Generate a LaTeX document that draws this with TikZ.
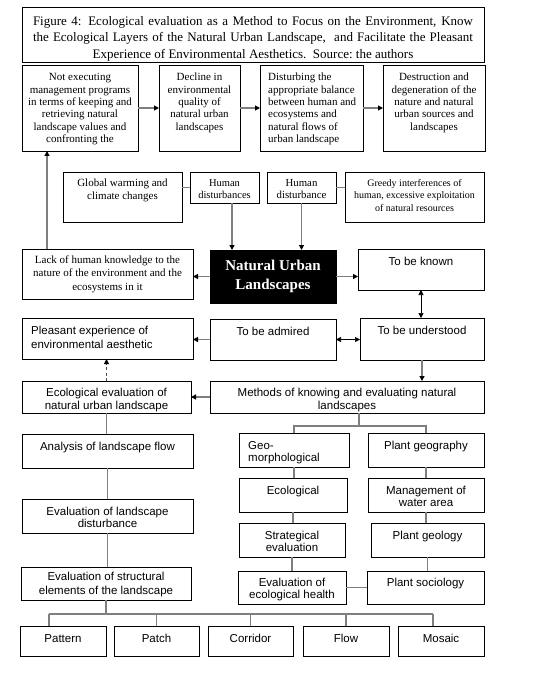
\documentclass[tikz,border=0pt]{standalone}
\usepackage{fontspec}
\setmainfont{Liberation Serif}
\setsansfont{Liberation Sans}
\usetikzlibrary{arrows.meta}
\definecolor{ln}{HTML}{7F7F7F}
\newcommand\bx[5]{\node[box,minimum width={(#4-#2)*1pt},minimum height={(#5-#3)*1pt}] (#1) at ({(#2+#4)/2},{(#3+#5)/2}) {};}
\tikzset{
  box/.style={draw=black,line width=0.75pt,inner sep=0pt,outer sep=0pt,fill=white},
  txt/.style={inner sep=0pt,anchor=north,align=center},
  sr/.style={font=\fontsize{11}{12.3}\selectfont},
  sf/.style={font=\sffamily\fontsize{11.5}{13}\selectfont},
  tip/.tip={Triangle[length=5pt,width=5pt,color=black,fill=black]},
  arr/.style={draw=ln,line width=1.2pt,-tip},
  dbl/.style={draw=black,line width=0.7pt,tip-tip},
  tl/.style={draw=ln,line width=1.2pt},
}
\begin{document}
\begin{tikzpicture}[x=1pt,y=-1pt]
\useasboundingbox[fill=white] (0,0) rectangle (551,679);
% title
\bx{title}{22}{7}{484}{62}
\node[txt,font=\fontsize{13}{16.5}\selectfont] (tt) at (253,13.4) {\strut\makebox[440pt][s]{Figure 4: Ecological evaluation as a Method to Focus on the Environment, Know}\\\makebox[440pt][s]{the Ecological Layers of the Natural Urban Landscape,\ \ and Facilitate the Pleasant}\\Experience of Environmental Aesthetics.\ \ Source:\ the authors};
% row 1
\bx{b1}{22}{65}{138}{151}
\bx{b2}{159}{65}{240}{151}
\bx{b3}{260}{65}{363}{151}
\bx{b4}{383}{65}{485}{151}
\node[txt,sr] (b1t) at (80,72.1) {\strut Not executing\\management programs\\in terms of keeping and\\retrieving natural\\landscape values and\\confronting the};
\node[txt,sr] (b2t) at (199.5,72.1) {\strut Decline in\\environmental\\quality of\\natural urban\\landscapes};
\node[txt,sr,anchor=north west,align=left] (b3t) at (268,72.1) {\strut Disturbing the\\appropriate balance\\between human and\\ecosystems and\\natural flows of\\urban landscape};
\node[txt,sr] (b4t) at (434,72.1) {\strut Destruction and\\degeneration of the\\nature and natural\\urban sources and\\landscapes};
\draw[arr] (b1) -- (b2);
\draw[arr] (b2) -- (b3);
\draw[arr] (b3) -- (b4);
% row 2
\bx{gw}{63}{172}{182}{222}
\bx{hd1}{190}{172}{259}{203}
\bx{hd2}{267}{172}{336}{203}
\bx{gr}{345}{172}{484}{222}
\node[txt,font=\fontsize{11}{13.3}\selectfont] (gwt) at (122.5,176.7) {\strut Global warming and\\climate changes};
\node[txt,font=\fontsize{10.5}{12}\selectfont] (hd1t) at (224.5,177.6) {\strut Human\\disturbances};
\node[txt,font=\fontsize{10.8}{12}\selectfont] (hd2t) at (301.5,177.6) {\strut Human\\disturbance};
\node[txt,font=\fontsize{10}{12.7}\selectfont] (grt) at (414.5,177.1) {\strut Greedy interferences of\\human, excessive exploitation\\of natural resources};
\draw[tl] (hd1.west) -- (hd1.west -| gw.east);
\draw[tl] (hd2.east) -- (hd2.east -| gr.west);
% row 3
\bx{lack}{22}{249}{193}{299}
\node[box,fill=black,minimum width=126pt,minimum height=53pt,text=white,align=center,font=\fontsize{15}{19}\selectfont\bfseries] (nul) at (273,276.5) {Natural Urban\\Landscapes};
\bx{known}{358}{249}{484}{290}
\node[txt,font=\fontsize{11}{13.8}\selectfont] (lackt) at (107.5,253.3) {\strut Lack of human knowledge to the\\nature of the environment and the\\ecosystems in it};
\node[txt,sf] (knownt) at (421,255.9) {\strut To be known};
\coordinate (xa) at (47,0);
\coordinate (xb) at (232,0);
\draw[arr] (lack.north -| xa) -- (b1.south -| xa);
\draw[arr] (hd1.south -| xb) -- (nul.north -| xb);
\draw[arr] (hd2.south) -- (hd2.south |- nul.north);
\draw[arr] (nul.west) -- (nul.west -| lack.east);
\draw[arr] (nul.east) -- (nul.east -| known.west);
% row 4
\bx{ple}{22}{318}{193}{359}
\bx{adm}{210}{319}{336}{360}
\bx{und}{360}{318}{484}{360}
\node[txt,sf,anchor=north west,align=left,font=\sffamily\fontsize{11.5}{14.3}\selectfont] (plet) at (31,324) {\strut Pleasant experience of\\environmental aesthetic};
\node[txt,sf] (admt) at (273,326.6) {\strut To be admired};
\node[txt,sf] (undt) at (422,325.6) {\strut To be understood};
\draw[dbl] (known.south) -- (known.south |- und.north);
\draw[dbl] (adm.east) -- (adm.east -| und.west);
\draw[arr] (adm.west) -- (adm.west -| ple.east);
% row 5
\bx{eco}{22}{381}{191}{413}
\bx{meth}{210}{381}{484}{413}
\node[txt,sf,font=\sffamily\fontsize{11.5}{13.3}\selectfont] (ecot) at (106.5,386.7) {\strut Ecological evaluation of\\natural urban landscape};
\node[txt,sf,font=\sffamily\fontsize{11.5}{13.3}\selectfont] (metht) at (347,386.7) {\strut Methods of knowing and evaluating natural\\landscapes};
\draw[arr] (und.south) -- (und.south |- meth.north);
\draw[arr] (meth.west) -- (meth.west -| eco.east);
\draw[draw=black!70,line width=1pt,dash pattern=on 3pt off 2.5pt,-tip] (eco.north) -- (eco.north |- ple.south);
% left column
\bx{ana}{22}{434}{193}{468}
\bx{dist}{22}{499}{193}{533}
\bx{str}{21}{567}{191}{600}
\node[txt,sf] (anat) at (107.5,441.6) {\strut Analysis of landscape flow};
\node[txt,sf,font=\sffamily\fontsize{11.5}{12.7}\selectfont] (distt) at (107.5,506.1) {\strut Evaluation of landscape\\disturbance};
\node[txt,sf,font=\sffamily\fontsize{11.5}{14}\selectfont] (strt) at (106,570.2) {\strut Evaluation of structural\\elements of the landscape};
\draw[tl] (eco.south) -- (eco.south |- ana.north);
\draw[tl] (ana.south) -- (ana.south |- dist.north);
\draw[tl] (dist.south) -- (dist.south |- str.north);
% right columns
\bx{geo}{239}{433}{349}{467}
\bx{pg}{368}{433}{484}{467}
\bx{ecol}{239}{478}{347}{512}
\bx{mg}{368}{478}{484}{512}
\bx{strat}{239}{523}{345}{557}
\bx{pgeol}{371}{523}{484}{557}
\bx{ecoh}{238}{571}{346}{604}
\bx{psoc}{367}{571}{484}{604}
\node[txt,sf,anchor=north west,align=left,font=\sffamily\fontsize{11.5}{12.7}\selectfont] (geot) at (248,440.1) {\strut Geo-\\morphological};
\node[txt,sf] (pgt) at (426,439.9) {\strut Plant geography};
\node[txt,sf] (ecolt) at (293,485.6) {\strut Ecological};
\node[txt,sf,font=\sffamily\fontsize{11.5}{12.7}\selectfont] (mgt) at (426,485.1) {\strut Management of\\water area};
\node[txt,sf,font=\sffamily\fontsize{11.5}{12.3}\selectfont] (stratt) at (292,530.4) {\strut Strategical\\evaluation};
\node[txt,sf] (pgeolt) at (427.5,530.6) {\strut Plant geology};
\node[txt,sf,font=\sffamily\fontsize{11.5}{12.3}\selectfont] (ecoht) at (292,577.4) {\strut Evaluation of\\ecological health};
\node[txt,sf] (psoct) at (425.5,577.6) {\strut Plant sociology};
\coordinate (tj) at (359,426);
\draw[tl] (meth.south -| tj) -- (tj);
\draw[tl] (geo.north) |- (tj) -| (pg.north);
\draw[tl] (geo.south) -- (geo.south |- ecol.north);
\draw[tl] (ecol.south) -- (ecol.south |- strat.north);
\draw[tl] (strat.south) -- (strat.south |- ecoh.north);
\draw[tl] (pg.south) -- (pg.south |- mg.north);
\draw[tl] (mg.south) -- (mg.south |- pgeol.north);
\draw[tl] (pgeol.south) -- (pgeol.south |- psoc.north);
\draw[tl] (ecoh.east) -- (ecoh.east -| psoc.west);
% bottom row
\bx{pat}{20}{626}{106}{656}
\bx{pch}{114}{626}{199}{656}
\bx{cor}{208}{626}{293}{656}
\bx{flo}{303}{626}{389}{656}
\bx{mos}{398}{626}{484}{656}
\node[txt,sf] (patt) at (63,633.2) {\strut Pattern};
\node[txt,sf] (pcht) at (156.5,633.2) {\strut Patch};
\node[txt,sf] (cort) at (250.5,633.2) {\strut Corridor};
\node[txt,sf] (flot) at (346,633.2) {\strut Flow};
\node[txt,sf] (most) at (441,633.2) {\strut Mosaic};
\coordinate (bl) at (49,614);
\coordinate (br) at (433,614);
\draw[tl] (str.south) -- (str.south |- bl);
\draw[tl] (bl) -- (br);
\draw[tl] (bl) -- (bl |- pat.north);
\draw[tl] (pch.north |- bl) -- (pch.north);
\draw[tl] (cor.north |- bl) -- (cor.north);
\draw[tl] (flo.north |- bl) -- (flo.north);
\draw[tl] (br) -- (br |- mos.north);
\end{tikzpicture}
\end{document}
